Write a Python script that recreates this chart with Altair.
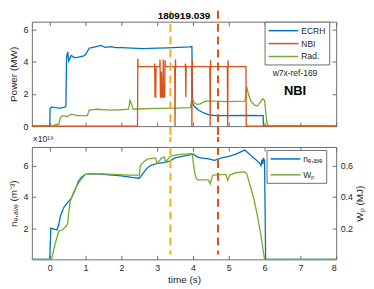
import altair as alt
import pandas as pd

# ---------------- data ----------------
SHOT = "180919.039"
REF_LABEL = "w7x-ref-169"
SCEN_LABEL = "NBI"
EXP_LABEL = "×10¹⁹"

ecrh_t = [-0.5, 0.0, 0.01, 0.05, 0.15, 0.3, 0.45, 0.47, 0.5, 0.53, 0.6, 0.7, 0.8, 0.93, 1.0,
          1.1, 1.2, 1.3, 1.43, 1.55, 1.7, 1.85, 2.0, 2.3, 2.6, 3.0, 3.3, 3.6, 3.9, 3.97,
          3.99, 4.05, 4.15, 4.3, 4.45, 4.6, 5.0, 5.5, 5.96, 5.97, 8.0]
ecrh_p = [0.0, 0.0, 1.1, 1.2, 1.15, 1.12, 1.2, 4.3, 4.62, 4.05, 4.4, 4.25, 4.3, 4.35, 4.45,
          4.85, 4.9, 4.95, 5.02, 4.9, 4.95, 4.88, 4.88, 4.85, 4.82, 4.85, 4.87, 4.9, 4.93, 4.95,
          1.4, 1.2, 1.0, 0.82, 0.7, 0.66, 0.65, 0.66, 0.65, 0.0, 0.0]

nbi_t = [-0.5, 2.45, 2.46, 2.47, 2.92, 2.93, 2.94, 2.96, 2.97, 3.07, 3.08, 3.09, 3.11, 3.12,
         3.13, 3.16, 3.17, 3.18, 3.21, 3.22, 3.23, 3.49, 3.50, 3.51, 3.52, 3.78, 3.79, 3.80,
         3.81, 3.96, 3.97, 3.98, 3.99, 4.47, 4.48, 4.49, 4.50, 4.96, 4.97, 4.98, 4.99, 5.48,
         5.49, 8.0]
nbi_p = [0.0, 0.0, 4.2, 3.7, 3.7, 3.9, 1.8, 1.8, 3.7, 3.7, 4.15, 1.8, 1.8, 3.4,
         1.8, 1.8, 4.15, 1.8, 1.8, 4.1, 3.7, 3.7, 0.0, 4.15, 3.7, 3.7, 3.9, 1.8,
         3.7, 3.7, 0.0, 4.15, 3.7, 3.7, 0.0, 4.1, 3.7, 3.7, 0.0, 4.1, 3.7, 3.7,
         0.0, 0.0]

rad_t = [-0.5, 0.1, 0.13, 0.2, 0.25, 0.3, 0.35, 0.5, 0.6, 0.7, 0.75, 1.05, 1.1, 1.3, 1.7,
         2.0, 2.2, 2.24, 2.28, 2.33, 2.6, 3.0, 3.5, 3.93, 3.97, 4.02, 4.1, 4.2, 4.35, 4.6,
         5.0, 5.45, 5.5, 5.56, 5.62, 5.72, 5.8, 5.9, 5.95, 6.0, 6.06, 6.1, 8.0]
rad_p = [0.0, 0.0, 0.08, 0.1, 0.1, 0.55, 0.65, 0.6, 0.75, 0.7, 0.65, 0.65, 1.0, 1.05, 1.0,
         1.02, 1.05, 1.6, 1.4, 1.05, 1.08, 1.1, 1.12, 1.15, 1.75, 1.5, 1.35, 1.38, 1.55, 1.55,
         1.52, 1.55, 2.45, 1.9, 1.55, 1.3, 1.25, 1.55, 1.7, 1.6, 0.3, 0.0, 0.0]

ne_t = [-0.5, 0.0, 0.03, 0.1, 0.2, 0.25, 0.3, 0.4, 0.5, 0.6, 0.7, 0.8, 0.9, 1.0, 1.2, 1.5,
        2.0, 2.3, 2.5, 2.6, 2.7, 2.8, 3.0, 3.2, 3.35, 3.5, 3.7, 3.9, 4.0, 4.1, 4.2, 4.4,
        4.6, 4.8, 5.0, 5.2, 5.35, 5.45, 5.55, 5.7, 5.85, 5.9, 5.93, 5.95, 5.97, 6.0, 6.03, 8.0]
ne_v = [0.0, 0.0, 2.0, 1.95, 1.88, 2.2, 2.8, 3.35, 3.65, 3.9, 4.4, 5.0, 5.3, 5.45, 5.5, 5.45,
        5.35, 5.25, 5.2, 5.5, 5.8, 6.0, 6.15, 6.2, 6.3, 6.5, 6.6, 6.7, 6.75, 6.6, 6.5, 6.45,
        6.35, 6.5, 6.6, 6.75, 6.9, 7.0, 6.8, 6.5, 6.2, 6.0, 6.4, 6.1, 6.5, 6.3, 0.0, 0.0]

wp_t = [-0.5, 0.05, 0.15, 0.25, 0.35, 0.45, 0.5, 0.53, 0.57, 0.65, 0.75, 0.9, 1.0, 1.3, 1.8,
        2.2, 2.5, 2.53, 2.6, 2.72, 2.95, 3.0, 3.13, 3.2, 3.23, 3.37, 3.55, 3.74, 3.98, 4.02,
        4.07, 4.12, 4.43, 4.48, 4.55, 4.92, 4.97, 5.03, 5.2, 5.44, 5.5, 5.6, 5.7, 5.8, 5.9,
        6.0, 8.0]
wp_v = [0.0, 0.0, 0.1, 0.18, 0.19, 0.21, 0.23, 0.3, 0.37, 0.42, 0.47, 0.52, 0.545, 0.55, 0.545,
        0.54, 0.54, 0.6, 0.62, 0.642, 0.65, 0.615, 0.65, 0.655, 0.625, 0.66, 0.67, 0.675, 0.678, 0.6,
        0.53, 0.51, 0.51, 0.483, 0.54, 0.545, 0.505, 0.54, 0.555, 0.56, 0.55, 0.47, 0.39, 0.28, 0.15,
        0.0, 0.0]

vline_t = [3.37, 4.70]
vline_colors = ["#EDB120", "#D95319"]

TOP_SERIES = ["ECRH", "NBI", "Rad."]
TOP_COLORS = ["#0072BD", "#D95319", "#77AC30"]
BOT_SERIES = ["nₑ,ₐᵥₑ", "Wₚ"]
BOT_COLORS = ["#0072BD", "#77AC30"]

x_ticks = [0, 1, 2, 3, 4, 5, 6, 7, 8]
top_y_ticks = [0, 2, 4, 6]
ne_ticks = [2, 4, 6]
wp_ticks = [0.2, 0.4, 0.6]

# ---------------- layout ----------------
W = 306
H1 = 105
H2 = 113
FONT = "Liberation Sans"
FRAME = "#6e6e6e"
TXT = "#262626"

XDOM = [-0.5, 8]


def xs():
    return alt.Scale(domain=XDOM, nice=False, zero=False)


def df_of(t, v, name):
    return pd.DataFrame({"t": t, "v": v, "s": [name] * len(t)})


ecrh_df = df_of(ecrh_t, ecrh_p, "ECRH")
nbi_df = df_of(nbi_t, nbi_p, "NBI")
rad_df = df_of(rad_t, rad_p, "Rad.")
ne_df = df_of(ne_t, ne_v, BOT_SERIES[0])
wp_df = df_of(wp_t, wp_v, BOT_SERIES[1])
vdf = pd.DataFrame({"t": vline_t})

x_top_main = alt.X("t:Q", scale=xs(), axis=alt.Axis(values=x_ticks, labels=False, title=None,
                                                   domain=False, tickSize=4, offset=-4))
y_top_main = alt.Y("v:Q", scale=alt.Scale(domain=[0, 6.5], nice=False),
                   axis=alt.Axis(values=top_y_ticks, title="Power (MW)", domain=False,
                                 tickSize=4, offset=-4, labelPadding=4, titlePadding=4,
                                 labelOverlap=False))


def legend(x, y, row_pad):
    return alt.Legend(orient="none", legendX=x, legendY=y, title=None,
                      symbolType="M-1,0H5", symbolSize=100,
                      symbolStrokeWidth=1.5, labelFontSize=8.5,
                      padding=3, rowPadding=row_pad, labelOffset=22,
                      strokeColor=FRAME, fillColor="white")


top_color = alt.Color("s:N", scale=alt.Scale(domain=TOP_SERIES, range=TOP_COLORS),
                      legend=legend(234, 0, 2))


def top_line(df):
    return alt.Chart(df).mark_line(strokeWidth=1.3, strokeJoin="miter").encode(
        x=x_top_main, y=y_top_main, color=top_color)


top_rules = [
    alt.Chart(vdf.iloc[[i]]).mark_rule(color=vline_colors[i], strokeWidth=2,
                                       strokeDash=[8, 5]).encode(
        x=x_top_main, y=alt.value(-11), y2=alt.value(H1 + 12))
    for i in range(2)
]

title_txt = alt.Chart(pd.DataFrame({"l": [SHOT]})).mark_text(
    font=FONT, fontSize=10, fontWeight="bold", baseline="bottom", color="black").encode(
    x=alt.value(W / 2), y=alt.value(-1), text="l:N")

ann_df = pd.DataFrame({"t": [6.85], "v": [3.32], "l": [REF_LABEL]})
ann2_df = pd.DataFrame({"t": [6.85], "v": [2.2], "l": [SCEN_LABEL]})
ann1 = alt.Chart(ann_df).mark_text(font=FONT, fontSize=8.5, color=TXT, baseline="middle").encode(
    x=x_top_main, y=y_top_main, text="l:N")
ann2 = alt.Chart(ann2_df).mark_text(font=FONT, fontSize=13, fontWeight="bold", color="black",
                                    baseline="middle").encode(
    x=x_top_main, y=y_top_main, text="l:N")

top_main = alt.layer(top_line(ecrh_df), top_line(rad_df), top_line(nbi_df),
                     ann1, ann2, *top_rules, title_txt)

tick_df = pd.DataFrame({"t": [0.0], "v": [0.0]})
top_ticks = alt.Chart(tick_df).mark_point(opacity=0).encode(
    x=alt.X("t:Q", scale=xs(), axis=alt.Axis(orient="top", values=x_ticks, labels=False,
                                             title=None, domain=False, tickSize=4, offset=-4)),
    y=alt.Y("v:Q", scale=alt.Scale(domain=[0, 6.5], nice=False),
            axis=alt.Axis(orient="right", values=top_y_ticks, labels=False, title=None,
                          domain=False, tickSize=4, offset=-4)))

top = alt.layer(top_main, top_ticks).resolve_scale(x="independent", y="independent").properties(
    width=W, height=H1)

# bottom panel
bot_color = alt.Color("s:N", scale=alt.Scale(domain=BOT_SERIES, range=BOT_COLORS),
                      legend=legend(236, 3, 5))

ne_line = alt.Chart(ne_df).mark_line(strokeWidth=1.3).encode(
    x=alt.X("t:Q", scale=xs(), axis=alt.Axis(values=x_ticks, title="time (s)", domain=False,
                                             tickSize=4, offset=-4, labelPadding=4,
                                             titlePadding=2, labelOverlap=False)),
    y=alt.Y("v:Q", scale=alt.Scale(domain=[0, 7.2], nice=False),
            axis=alt.Axis(values=ne_ticks, title="nₑ,ₐᵥₑ (m⁻³)", domain=False, tickSize=4,
                          offset=-4, labelPadding=4, titlePadding=4, labelOverlap=False)),
    color=bot_color)

wp_line = alt.Chart(wp_df).mark_line(strokeWidth=1.3).encode(
    x=alt.X("t:Q", scale=xs(), axis=None),
    y=alt.Y("v:Q", scale=alt.Scale(domain=[0, 0.72], nice=False),
            axis=alt.Axis(orient="right", values=wp_ticks, title="Wₚ (MJ)", titleAngle=270,
                          titleBaseline="top", domain=False, tickSize=4, offset=-4,
                          labelPadding=4, titlePadding=2, format=".1f", labelOverlap=False)),
    color=bot_color)

bot_rules = [
    alt.Chart(vdf.iloc[[i]]).mark_rule(color=vline_colors[i], strokeWidth=2,
                                       strokeDash=[8, 5], strokeDashOffset=3).encode(
        x=alt.X("t:Q", scale=xs(), axis=None), y=alt.value(-10), y2=alt.value(H2 - 5))
    for i in range(2)
]

exp_txt = alt.Chart(pd.DataFrame({"l": [EXP_LABEL]})).mark_text(
    font=FONT, fontSize=8.5, align="left", baseline="bottom", color=TXT).encode(
    x=alt.value(1), y=alt.value(-3), text="l:N")

bot_ticks = alt.Chart(tick_df).mark_point(opacity=0).encode(
    x=alt.X("t:Q", scale=xs(), axis=alt.Axis(orient="top", values=x_ticks, labels=False,
                                             title=None, domain=False, tickSize=4, offset=-4)))

bottom = alt.layer(ne_line, wp_line, alt.layer(*bot_rules), exp_txt, bot_ticks).resolve_scale(
    x="independent", y="independent").properties(width=W, height=H2)

chart = alt.vconcat(top, bottom, spacing=21, bounds="flush").resolve_scale(
    color="independent").properties(
    padding={"left": 0, "top": 0, "right": 0, "bottom": 0}
).configure_view(stroke=FRAME, strokeWidth=1).configure_axis(
    labelFont=FONT, labelFontSize=9, labelColor=TXT, titleFont=FONT, titleFontSize=10,
    titleFontWeight="normal", titleColor=TXT, tickColor=FRAME, grid=False
).configure_legend(labelFont=FONT, labelColor=TXT)

chart.save("out.html", embed_options={"renderer": "svg", "actions": False})
